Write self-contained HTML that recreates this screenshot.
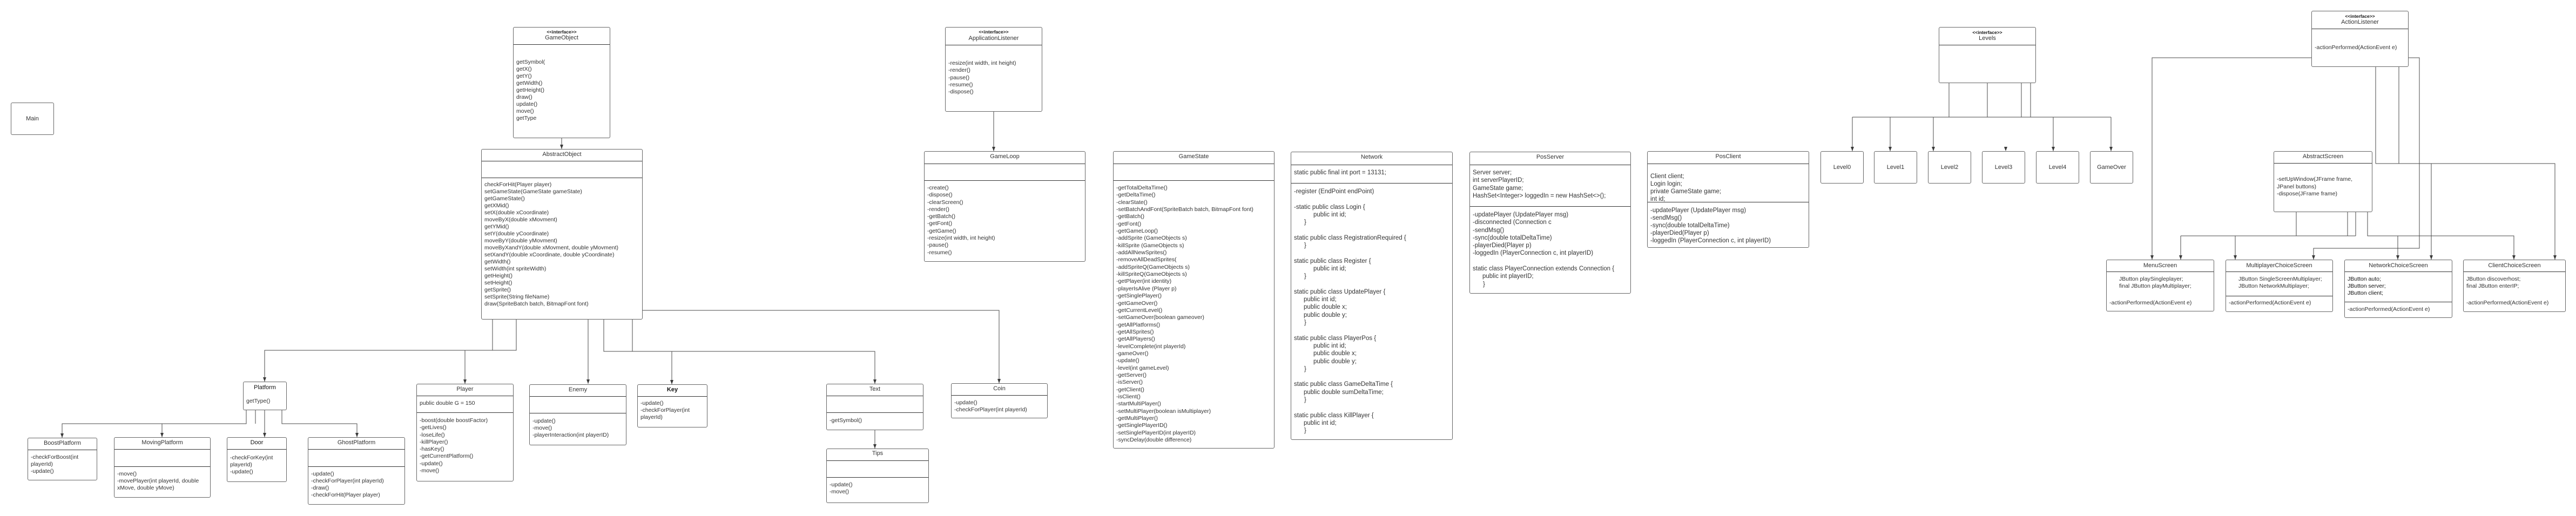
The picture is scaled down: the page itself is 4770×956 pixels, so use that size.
<!DOCTYPE html>
<html><head><meta charset="utf-8"><style>
html,body{margin:0;padding:0;background:#fff;}
#c{position:relative;width:4770px;height:956px;overflow:hidden;background:#fff;font-family:"Liberation Sans",sans-serif;color:#333;}
.b{position:absolute;border:1px solid #666;border-radius:3px;box-sizing:border-box;background:#fff;font-size:10.5px;}
.t{position:absolute;left:0;right:0;text-align:center;line-height:14px;font-size:11px;}
.i{position:absolute;left:0;right:0;text-align:center;line-height:12px;font-size:8.5px;font-weight:bold;color:#111;}
.d{position:absolute;left:0;right:0;height:0;border-top:1px solid #333;}
.m{position:absolute;left:5px;right:2px;line-height:13px;white-space:nowrap;}
.n{font-size:11.5px;line-height:14.3px;}
.n div{height:14.3px;}
svg{position:absolute;left:0;top:0;}
</style></head><body><div id="c">
<svg width="4770" height="956" viewBox="0 0 4770 956">
<g fill="none" stroke="#4a4a4a" stroke-width="1">
<path d="M1040 256V276"/>
<path d="M1840 207V280"/>
<path d="M1190 575H1850V710"/>
<path d="M912 592V649H490V707"/>
<path d="M956 592V649H861V711"/>
<path d="M1089 592V711"/>
<path d="M1118 592V651H1620V711"/>
<path d="M1171 592V651"/>
<path d="M1244 651V712"/>
<path d="M1620 797V831"/>
<path d="M456 760V785H115V811"/>
<path d="M473 760V785"/>
<path d="M300 785V810"/>
<path d="M490 760V810"/>
<path d="M522 760V785H661V810"/>
<path d="M3609 154V217M3680 154V217M3743 154V217M3760 154V217"/>
<path d="M3430 217H3909"/>
<path d="M3430 217V280M3500 217V280M3580 217V280M3802 217V280M3909 217V280"/>
<path d="M4280 107H3985V481"/>
<path d="M4460 107H4480V460H4284V481"/>
<path d="M4399 124V303M4442 124V303M4399 303H4731V481M4502 303V481"/>
<path d="M4252 393V437M4347 393V437M4362 393V437M4038 437H4362M4038 437V481M4139 437V481"/>
<path d="M4384 393V437H4655V481M4440 437V481"/>
</g>
<g fill="#3a3a3a">
<path d="M1037 268L1043 268L1040 276Z"/>
<path d="M1837 272L1843 272L1840 280Z"/>
<path d="M1847 702L1853 702L1850 710Z"/>
<path d="M487 699L493 699L490 707Z"/>
<path d="M858 703L864 703L861 711Z"/>
<path d="M1086 703L1092 703L1089 711Z"/>
<path d="M1617 703L1623 703L1620 711Z"/>
<path d="M1241 704L1247 704L1244 712Z"/>
<path d="M1617 823L1623 823L1620 831Z"/>
<path d="M112 803L118 803L115 811Z"/>
<path d="M297 802L303 802L300 810Z"/>
<path d="M487 802L493 802L490 810Z"/>
<path d="M658 802L664 802L661 810Z"/>
<path d="M3427 272L3433 272L3430 280Z"/>
<path d="M3497 272L3503 272L3500 280Z"/>
<path d="M3577 272L3583 272L3580 280Z"/>
<path d="M3711 272L3717 272L3714 280Z"/>
<path d="M3799 272L3805 272L3802 280Z"/>
<path d="M3906 272L3912 272L3909 280Z"/>
<path d="M3982 473L3988 473L3985 481Z"/>
<path d="M4035 473L4041 473L4038 481Z"/>
<path d="M4136 473L4142 473L4139 481Z"/>
<path d="M4281 473L4287 473L4284 481Z"/>
<path d="M4437 473L4443 473L4440 481Z"/>
<path d="M4499 473L4505 473L4502 481Z"/>
<path d="M4652 473L4658 473L4655 481Z"/>
<path d="M4728 473L4734 473L4731 481Z"/>
</g>
</svg>

<!-- Main -->
<div class="b" style="left:20px;top:190px;width:80px;height:60px;"><div class="t" style="top:22px;">Main</div></div>

<!-- GameObject -->
<div class="b" style="left:950px;top:50px;width:180px;height:206px;">
<div class="i" style="top:2px;">&lt;&lt;interface&gt;&gt;</div><div class="t" style="top:12px;">GameObject</div>
<div class="d" style="top:31px;"></div>
<div class="m" style="top:58px;">getSymbol(<br>getX()<br>getY()<br>getWidth()<br>getHeight()<br>draw()<br>update()<br>move()<br>getType</div></div>

<!-- AbstractObject -->
<div class="b" style="left:891px;top:276px;width:299px;height:316px;">
<div class="t" style="top:2px;">AbstractObject</div>
<div class="d" style="top:21px;"></div><div class="d" style="top:52px;"></div>
<div class="m" style="top:59px;">checkForHit(Player player)<br>setGameState(GameState gameState)<br>getGameState()<br>getXMid()<br>setX(double xCoordinate)<br>moveByX(double xMovment)<br>getYMid()<br>setY(double yCoordinate)<br>moveByY(double yMovment)<br>moveByXandY(double xMovment, double yMovment)<br>setXandY(double xCoordinate, double yCoordinate)<br>getWidth()<br>setWidth(int spriteWidth)<br>getHeight()<br>setHeight()<br>getSprite()<br>setSprite(String fileName)<br>draw(SpriteBatch batch, BitmapFont font)</div></div>

<!-- Platform -->
<div class="b" style="left:450px;top:707px;width:81px;height:53px;">
<div class="t" style="top:3px;color:#111;">Platform</div>
<div class="m" style="top:29px;">getType()</div></div>

<div class="b" style="left:51px;top:811px;width:129px;height:79px;">
<div class="t" style="top:2px;">BoostPlatform</div><div class="d" style="top:21px;"></div>
<div class="m" style="top:29px;">-checkForBoost(int<br>playerId)<br>-update()</div></div>

<div class="b" style="left:211px;top:810px;width:179px;height:112px;">
<div class="t" style="top:2px;">MovingPlatform</div><div class="d" style="top:21px;"></div><div class="d" style="top:53px;"></div>
<div class="m" style="top:61px;">-move()<br>-movePlayer(int playerId, double<br>xMove, double yMove)</div></div>

<div class="b" style="left:420px;top:810px;width:111px;height:83px;">
<div class="t" style="top:2px;color:#111;">Door</div><div class="d" style="top:21px;"></div>
<div class="m" style="top:31px;">-checkForKey(int<br>playerId)<br>-update()</div></div>

<div class="b" style="left:570px;top:810px;width:180px;height:125px;">
<div class="t" style="top:2px;">GhostPlatform</div><div class="d" style="top:21px;"></div><div class="d" style="top:53px;"></div>
<div class="m" style="top:61px;">-update()<br>-checkForPlayer(int playerId)<br>-draw()<br>-checkForHit(Player player)</div></div>

<!-- Player etc -->
<div class="b" style="left:771px;top:711px;width:180px;height:181px;">
<div class="t" style="top:2px;">Player</div><div class="d" style="top:21px;"></div><div class="d" style="top:52px;"></div>
<div class="m" style="top:29px;">public double G = 150</div>
<div class="m" style="top:61px;line-height:13.3px;">-boost(double boostFactor)<br>-getLives()<br>-loseLife()<br>-killPlayer()<br>-hasKey()<br>-getCurrentPlatform()<br>-update()<br>-move()</div></div>

<div class="b" style="left:980px;top:712px;width:180px;height:113px;">
<div class="t" style="top:2px;">Enemy</div><div class="d" style="top:21px;"></div><div class="d" style="top:52px;"></div>
<div class="m" style="top:61px;">-update()<br>-move()<br>-playerInteraction(int playerID)</div></div>

<div class="b" style="left:1180px;top:712px;width:130px;height:80px;">
<div class="t" style="top:2px;color:#111;font-weight:bold;">Key</div><div class="d" style="top:21px;"></div>
<div class="m" style="top:28px;">-update()<br>-checkForPlayer(int<br>playerId)</div></div>

<div class="b" style="left:1530px;top:711px;width:180px;height:86px;">
<div class="t" style="top:2px;">Text</div><div class="d" style="top:21px;"></div><div class="d" style="top:52px;"></div>
<div class="m" style="top:61px;">-getSymbol()</div></div>

<div class="b" style="left:1530px;top:831px;width:190px;height:101px;">
<div class="t" style="top:1px;">Tips</div><div class="d" style="top:21px;"></div><div class="d" style="top:52px;"></div>
<div class="m" style="top:60px;">-update()<br>-move()</div></div>

<div class="b" style="left:1761px;top:710px;width:179px;height:65px;">
<div class="t" style="top:2px;">Coin</div><div class="d" style="top:21px;"></div>
<div class="m" style="top:29px;">-update()<br>-checkForPlayer(int playerId)</div></div>

<!-- ApplicationListener -->
<div class="b" style="left:1750px;top:50px;width:180px;height:157px;">
<div class="i" style="top:2px;">&lt;&lt;interface&gt;&gt;</div><div class="t" style="top:13px;">ApplicationListener</div>
<div class="d" style="top:32px;"></div>
<div class="m" style="top:60px;line-height:13.3px;">-resize(int width, int height)<br>-render()<br>-pause()<br>-resume()<br>-dispose()</div></div>

<div class="b" style="left:1711px;top:280px;width:299px;height:205px;">
<div class="t" style="top:2px;">GameLoop</div><div class="d" style="top:22px;"></div><div class="d" style="top:53px;"></div>
<div class="m" style="top:61px;line-height:13.3px;">-create()<br>-dispose()<br>-clearScreen()<br>-render()<br>-getBatch()<br>-getFont()<br>-getGame()<br>-resize(int width, int height)<br>-pause()<br>-resume()</div></div>

<div class="b" style="left:2061px;top:280px;width:299px;height:551px;">
<div class="t" style="top:2px;">GameState</div><div class="d" style="top:22px;"></div><div class="d" style="top:53px;"></div>
<div class="m" style="top:61px;line-height:13.34px;">-getTotalDeltaTime()<br>-getDeltaTime()<br>-clearState()<br>-setBatchAndFont(SpriteBatch batch, BitmapFont font)<br>-getBatch()<br>-getFont()<br>-getGameLoop()<br>-addSprite (GameObjects s)<br>-killSprite (GameObjects s)<br>-addAllNewSprites()<br>-removeAllDeadSprites(<br>-addSpriteQ(GameObjects s)<br>-killSpriteQ(GameObjects s)<br>-getPlayer(int identity)<br>-playerIsAlive (Player p)<br>-getSinglePlayer()<br>-getGameOver()<br>-getCurrentLevel()<br>-setGameOver(boolean gameover)<br>-getAllPlatforms()<br>-getAllSprites()<br>-getAllPlayers()<br>-levelComplete(int playerId)<br>-gameOver()<br>-update()<br>-level(int gameLevel)<br>-getServer()<br>-isServer()<br>-getClient()<br>-isClient()<br>-startMultiPlayer()<br>-setMultiPlayer(boolean isMultiplayer)<br>-getMultiPlayer()<br>-getSinglePlayerID()<br>-setSinglePlayerID(int playerID)<br>-syncDelay(double difference)</div></div>

<!-- Network -->
<div class="b" style="left:2390px;top:281px;width:300px;height:534px;">
<div class="t" style="top:2px;">Network</div><div class="d" style="top:23px;"></div><div class="d" style="top:57px;"></div>
<div class="m n" style="top:31px;"><div>static public final int port = 13131;</div></div>
<div class="m n" style="top:66px;">
<div>-register (EndPoint endPoint)</div><div></div>
<div>-static public class Login {</div><div style="padding-left:36px;">public int id;</div><div style="padding-left:19px;">}</div><div></div>
<div>static public class RegistrationRequired {</div><div style="padding-left:19px;">}</div><div></div>
<div>static public class Register {</div><div style="padding-left:36px;">public int id;</div><div style="padding-left:19px;">}</div><div></div>
<div>static public class UpdatePlayer {</div><div style="padding-left:18px;">public int id;</div><div style="padding-left:18px;">public double x;</div><div style="padding-left:18px;">public double y;</div><div style="padding-left:19px;">}</div><div></div>
<div>static public class PlayerPos {</div><div style="padding-left:36px;">public int id;</div><div style="padding-left:36px;">public double x;</div><div style="padding-left:36px;">public double y;</div><div style="padding-left:19px;">}</div><div></div>
<div>static public class GameDeltaTime {</div><div style="padding-left:18px;">public double sumDeltaTime;</div><div style="padding-left:19px;">}</div><div></div>
<div>static public class KillPlayer {</div><div style="padding-left:18px;">public int id;</div><div style="padding-left:19px;">}</div>
</div></div>

<div class="b" style="left:2721px;top:281px;width:299px;height:263px;">
<div class="t" style="top:2px;">PosServer</div><div class="d" style="top:23px;"></div><div class="d" style="top:100px;"></div>
<div class="m n" style="top:31px;"><div>Server server;</div><div>int serverPlayerID;</div><div>GameState game;</div><div>HashSet&lt;Integer&gt; loggedIn = new HashSet&lt;&gt;();</div></div>
<div class="m n" style="top:109px;"><div>-updatePlayer (UpdatePlayer msg)</div><div>-disconnected (Connection c</div><div>-sendMsg()</div><div>-sync(double totalDeltaTime)</div><div>-playerDied(Player p)</div><div>-loggedIn (PlayerConnection c, int playerID)</div><div></div><div>static class PlayerConnection extends Connection {</div><div style="padding-left:18px;">public int playerID;</div><div style="padding-left:19px;">}</div></div></div>

<div class="b" style="left:3050px;top:280px;width:300px;height:179px;">
<div class="t" style="top:2px;">PosClient</div><div class="d" style="top:22px;"></div><div class="d" style="top:93px;"></div>
<div class="m n" style="top:39px;line-height:14px;"><div style="height:14px">Client client;</div><div style="height:14px">Login login;</div><div style="height:14px">private GameState game;</div><div style="height:14px">int id;</div></div>
<div class="m n" style="top:102px;line-height:14px;"><div style="height:14px">-updatePlayer (UpdatePlayer msg)</div><div style="height:14px">-sendMsg()</div><div style="height:14px">-sync(double totalDeltaTime)</div><div style="height:14px">-playerDied(Player p)</div><div style="height:14px">-loggedIn (PlayerConnection c, int playerID)</div></div></div>

<!-- Levels -->
<div class="b" style="left:3590px;top:50px;width:180px;height:104px;">
<div class="i" style="top:3px;">&lt;&lt;interface&gt;&gt;</div><div class="t" style="top:13px;">Levels</div>
<div class="d" style="top:32px;"></div></div>
<div class="b" style="left:3371px;top:280px;width:80px;height:60px;"><div class="t" style="top:22px;">Level0</div></div>
<div class="b" style="left:3470px;top:280px;width:80px;height:60px;"><div class="t" style="top:22px;">Level1</div></div>
<div class="b" style="left:3570px;top:280px;width:80px;height:60px;"><div class="t" style="top:22px;">Level2</div></div>
<div class="b" style="left:3670px;top:280px;width:80px;height:60px;"><div class="t" style="top:22px;">Level3</div></div>
<div class="b" style="left:3770px;top:280px;width:80px;height:60px;"><div class="t" style="top:22px;">Level4</div></div>
<div class="b" style="left:3870px;top:280px;width:80px;height:60px;"><div class="t" style="top:22px;">GameOver</div></div>

<!-- ActionListener -->
<div class="b" style="left:4280px;top:20px;width:180px;height:104px;">
<div class="i" style="top:3px;">&lt;&lt;interface&gt;&gt;</div><div class="t" style="top:13px;">ActionListener</div>
<div class="d" style="top:32px;"></div>
<div class="m" style="top:61px;">-actionPerformed(ActionEvent e)</div></div>

<div class="b" style="left:4210px;top:280px;width:183px;height:113px;">
<div class="t" style="top:2px;">AbstractScreen</div><div class="d" style="top:21px;"></div>
<div class="m" style="top:45px;line-height:13.5px;">-setUpWindow(JFrame frame,<br>JPanel buttons)<br>-dispose(JFrame frame)</div></div>

<div class="b" style="left:3900px;top:481px;width:200px;height:96px;">
<div class="t" style="top:3px;">MenuScreen</div><div class="d" style="top:21px;"></div>
<div class="m" style="top:29px;left:23px;">JButton playSingleplayer;<br>final JButton playMultiplayer;</div>
<div class="m" style="top:73px;">-actionPerformed(ActionEvent e)</div></div>

<div class="b" style="left:4121px;top:481px;width:199px;height:97px;">
<div class="t" style="top:3px;">MultiplayerChoiceScreen</div><div class="d" style="top:21px;"></div><div class="d" style="top:66px;"></div>
<div class="m" style="top:29px;left:23px;">JButton SingleScreenMultiplayer;<br>JButton NetworkMultiplayer;</div>
<div class="m" style="top:73px;">-actionPerformed(ActionEvent e)</div></div>

<div class="b" style="left:4341px;top:481px;width:200px;height:108px;">
<div class="t" style="top:3px;">NetworkChoiceScreen</div><div class="d" style="top:21px;"></div><div class="d" style="top:77px;"></div>
<div class="m" style="top:29px;color:#111;">JButton auto;<br>JButton server;<br>JButton client;</div>
<div class="m" style="top:85px;">-actionPerformed(ActionEvent e)</div></div>

<div class="b" style="left:4561px;top:481px;width:190px;height:97px;">
<div class="t" style="top:3px;">ClientChoiceScreen</div><div class="d" style="top:21px;"></div>
<div class="m" style="top:29px;">JButton discoverhost;<br>final JButton enterIP;</div>
<div class="m" style="top:73px;">-actionPerformed(ActionEvent e)</div></div>

</div></body></html>
